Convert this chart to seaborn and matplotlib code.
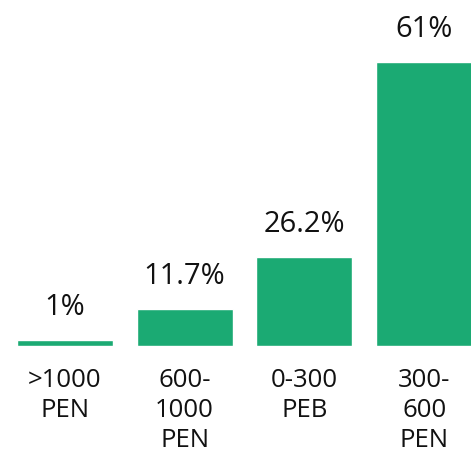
import matplotlib
matplotlib.use("Agg")
import matplotlib.pyplot as plt
import seaborn as sns

categories = [">1000\nPEN", "600-\n1000\nPEN", "0-300\nPEB", "300-\n600\nPEN"]
bar_heights = [1.3, 7.9, 19.1, 61.0]
value_labels = ["1%", "11.7%", "26.2%", "61%"]

sns.set_theme(style="white")
plt.rcParams['font.family'] = ['Open Sans', 'DejaVu Sans']

W, H = 471, 454
fig = plt.figure(figsize=(W / 100, H / 100), dpi=100)
px_per_unit = 284 / 61.0
base = 346
ymax = 70
top = base - ymax * px_per_unit
left = 5
width = 479
ax = fig.add_axes([left / W, (H - base) / H, width / W, (base - top) / H])

sns.barplot(x=list(range(len(bar_heights))), y=bar_heights, color="#1BAA73",
            saturation=1, width=0.8, ax=ax)
ax.set_xlim(-0.5, 3.5)
ax.set_ylim(0, ymax)
for s in ax.spines.values():
    s.set_visible(False)
ax.set_yticks([])
ax.set_xticks(range(len(categories)))
ax.set_xticklabels(categories, fontsize=18.5, color="#111111", linespacing=1.25)
ax.tick_params(axis="x", length=0, pad=16)
ax.set_xlabel("")
ax.set_ylabel("")

for i, (h, lab) in enumerate(zip(bar_heights, value_labels)):
    ax.annotate(lab, (i, h), xytext=(0, 13), textcoords="offset points",
                ha="center", va="bottom", fontsize=21, color="#111111")

fig.savefig("out.png", dpi=100, facecolor="white")
